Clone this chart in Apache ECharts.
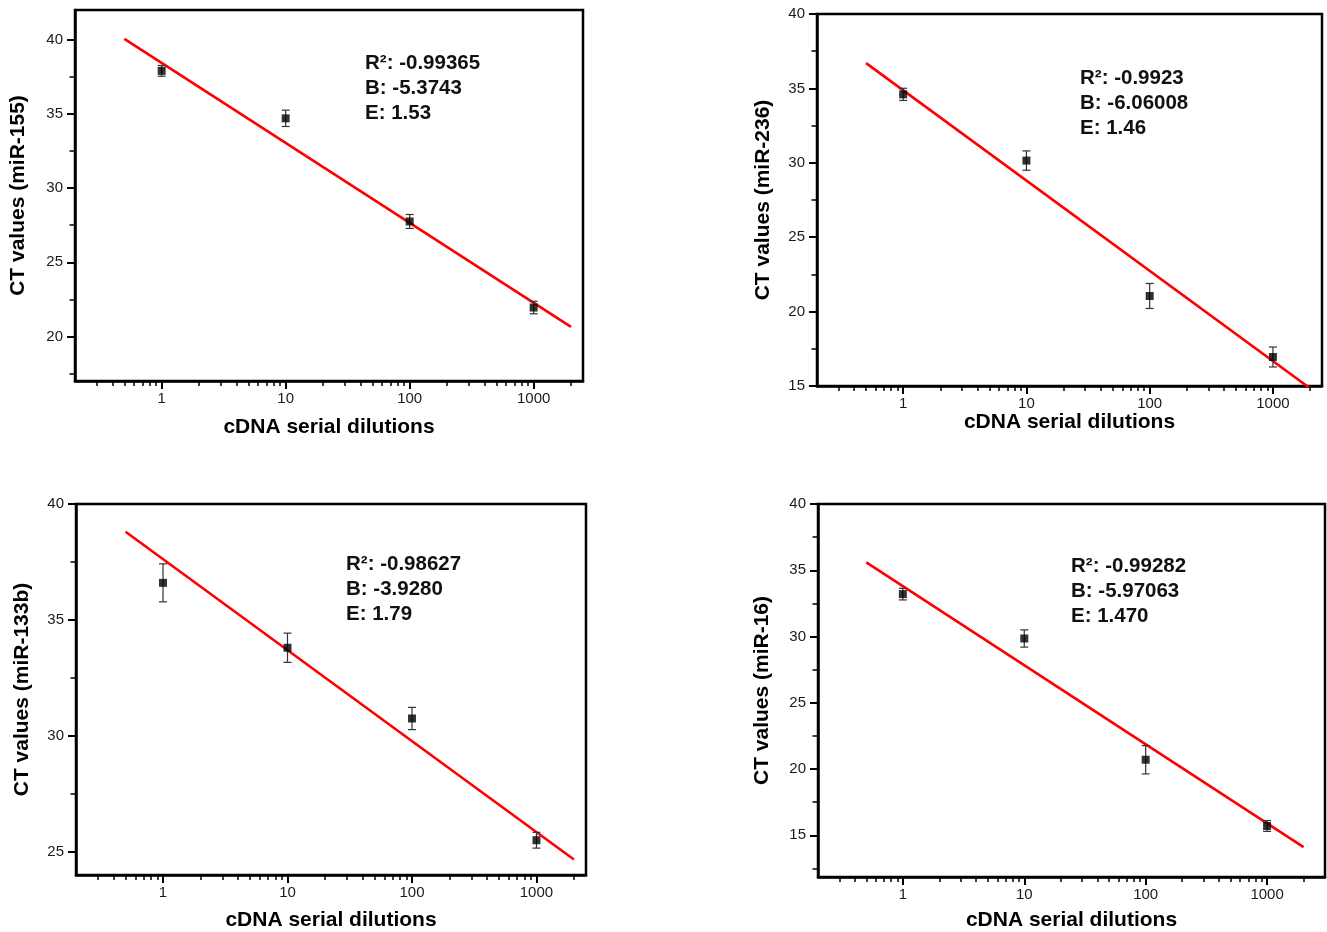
<!DOCTYPE html>
<html>
<head>
<meta charset="utf-8">
<script src="https://cdn.jsdelivr.net/npm/echarts@6/dist/echarts.min.js"></script>
<style>
  html, body { margin: 0; padding: 0; background: #fff; }
  #main { width: 1327px; height: 932px; }
</style>
</head>
<body>
<div id="main"></div>
<script>
// dilution steps (x) and the two ends of each fitted line
var dilutions = [1, 10, 100, 1000];
var fitX = [0.5, 2000];
var xTickValues = [1, 10, 100, 1000];
var xTickLabels = ['1', '10', '100', '1000'];

// miR-155
var ct155 = [37.9, 34.7, 27.75, 21.95];
var err155 = [0.36, 0.55, 0.47, 0.42];
var fit155 = [40.05, 20.65];
var stats155 = ['R\u00b2: -0.99365', 'B: -5.3743', 'E: 1.53'];
var yRange155 = [17, 42];
var yTicks155 = [20, 25, 30, 35, 40];
var yMinor155 = [17.5, 22.5, 27.5, 32.5, 37.5];

// miR-236
var ct236 = [34.6, 30.15, 21.05, 16.95];
var err236 = [0.41, 0.65, 0.84, 0.67];
var fit236 = [36.7, 14.85];
var stats236 = ['R\u00b2: -0.9923', 'B: -6.06008', 'E: 1.46'];
var yRange236 = [15, 40];
var yTicks236 = [15, 20, 25, 30, 35, 40];
var yMinor236 = [17.5, 22.5, 27.5, 32.5, 37.5];

// miR-133b
var ct133b = [36.6, 33.8, 30.75, 25.5];
var err133b = [0.82, 0.63, 0.48, 0.34];
var fit133b = [38.8, 24.67];
var stats133b = ['R\u00b2: -0.98627', 'B: -3.9280', 'E: 1.79'];
var yRange133b = [24, 40];
var yTicks133b = [25, 30, 35, 40];
var yMinor133b = [27.5, 32.5, 37.5];

// miR-16
var ct16 = [33.2, 29.85, 20.7, 15.7];
var err16 = [0.44, 0.65, 1.07, 0.41];
var fit16 = [35.6, 14.1];
var stats16 = ['R\u00b2: -0.99282', 'B: -5.97063', 'E: 1.470'];
var yRange16 = [11.85, 40];
var yTicks16 = [15, 20, 25, 30, 35, 40];
var yMinor16 = [12.5, 17.5, 22.5, 27.5, 32.5, 37.5];

var xRanges = [[0.2, 2500], [0.2, 2500], [0.2, 2500], [0.2, 3000]];

var chartDom = document.getElementById('main');
var myChart = echarts.init(chartDom);
var font = 'Arial, "Liberation Sans", Helvetica, sans-serif';

var panels = [
    { name: 'CT values (miR-155)', ct: ct155, err: err155, fit: fit155, stats: stats155, yRange: yRange155, yTicks: yTicks155, yMinor: yMinor155,
      grid: { left: 75, top: 10, width: 508, height: 371 }, xGap: 35.5, yGap: 46, text: [365, 63] },
    { name: 'CT values (miR-236)', ct: ct236, err: err236, fit: fit236, stats: stats236, yRange: yRange236, yTicks: yTicks236, yMinor: yMinor236,
      grid: { left: 817, top: 14, width: 505, height: 372 }, xGap: 25.5, yGap: 43.5, text: [1080, 78] },
    { name: 'CT values (miR-133b)', ct: ct133b, err: err133b, fit: fit133b, stats: stats133b, yRange: yRange133b, yTicks: yTicks133b, yMinor: yMinor133b,
      grid: { left: 76, top: 504, width: 510, height: 371 }, xGap: 34.5, yGap: 43.5, text: [346, 564] },
    { name: 'CT values (miR-16)', ct: ct16, err: err16, fit: fit16, stats: stats16, yRange: yRange16, yTicks: yTicks16, yMinor: yMinor16,
      grid: { left: 818, top: 504, width: 507, height: 373 }, xGap: 32.5, yGap: 45.5, text: [1071, 566] }
];

// log10 positions of the 2..9 minor ticks inside an x range
function minorLogTicks(range) {
    var out = [];
    for (var d = -1; d <= 3; d++) {
        for (var m = 2; m <= 9; m++) {
            var v = m * Math.pow(10, d);
            if (v > range[0] + 1e-9 && v < range[1] - 1e-9) out.push(Math.log10(v));
        }
    }
    return out;
}

var grids = [], xAxes = [], yAxes = [], series = [], graphics = [];

panels.forEach(function (p, i) {
    grids.push(Object.assign({ show: true, borderColor: '#000', borderWidth: 2.5, backgroundColor: 'transparent' }, p.grid));
    var xr = xRanges[i];
    var xMin = Math.log10(xr[0]), xMax = Math.log10(xr[1]);
    var majorX = xTickValues.map(function (v) { return Math.log10(v); });

    xAxes.push({
        type: 'value', gridIndex: i, position: 'bottom', min: xMin, max: xMax,
        name: 'cDNA serial dilutions', nameLocation: 'middle', nameGap: p.xGap,
        nameTextStyle: { fontFamily: font, fontWeight: 'bold', fontSize: 21, color: '#000' },
        axisLine: { show: true, onZero: false, lineStyle: { color: '#000', width: 2.5 } },
        axisTick: { show: true, inside: false, length: 8, lineStyle: { color: '#000', width: 2 }, customValues: majorX },
        axisLabel: {
            show: true, margin: 10, fontFamily: font, fontSize: 15, color: '#1a1a1a', customValues: majorX,
            formatter: function (v) {
                var k = majorX.findIndex(function (m) { return Math.abs(m - v) < 1e-6; });
                return k >= 0 ? xTickLabels[k] : '';
            }
        },
        splitLine: { show: false }
    });
    xAxes.push({
        type: 'value', gridIndex: i, position: 'bottom', min: xMin, max: xMax,
        axisLine: { show: false, onZero: false },
        axisTick: { show: true, inside: false, length: 5, lineStyle: { color: '#000', width: 1.5 }, customValues: minorLogTicks(xr) },
        axisLabel: { show: false },
        splitLine: { show: false }
    });

    yAxes.push({
        type: 'value', gridIndex: i, position: 'left', min: p.yRange[0], max: p.yRange[1],
        name: p.name, nameLocation: 'middle', nameGap: p.yGap, nameRotate: 90,
        nameTextStyle: { fontFamily: font, fontWeight: 'bold', fontSize: 21, color: '#000' },
        axisLine: { show: true, onZero: false, lineStyle: { color: '#000', width: 2.5 } },
        axisTick: { show: true, inside: false, length: 8, lineStyle: { color: '#000', width: 2 }, customValues: p.yTicks },
        axisLabel: { show: true, margin: 12, fontFamily: font, fontSize: 15, color: '#1a1a1a', customValues: p.yTicks },
        splitLine: { show: false }
    });
    yAxes.push({
        type: 'value', gridIndex: i, position: 'left', min: p.yRange[0], max: p.yRange[1],
        axisLine: { show: false, onZero: false },
        axisTick: { show: true, inside: false, length: 5.5, lineStyle: { color: '#000', width: 1.5 }, customValues: p.yMinor },
        axisLabel: { show: false },
        splitLine: { show: false }
    });

    // fitted line, read as its two ends
    series.push({
        type: 'line', xAxisIndex: 2 * i, yAxisIndex: 2 * i, clip: true,
        data: fitX.map(function (x, k) { return [Math.log10(x), p.fit[k]]; }),
        showSymbol: false, symbol: 'none',
        lineStyle: { color: '#ff0000', width: 2.6 }, z: 2, silent: true
    });

    // error bars
    series.push({
        type: 'custom', xAxisIndex: 2 * i, yAxisIndex: 2 * i, z: 3,
        data: dilutions.map(function (x, k) { return [Math.log10(x), p.ct[k] - p.err[k], p.ct[k] + p.err[k]]; }),
        renderItem: function (params, api) {
            var lo = api.coord([api.value(0), api.value(1)]);
            var hi = api.coord([api.value(0), api.value(2)]);
            var w = 4;
            var st = { stroke: '#333', lineWidth: 1.2 };
            return {
                type: 'group',
                children: [
                    { type: 'line', shape: { x1: lo[0], y1: lo[1], x2: hi[0], y2: hi[1] }, style: st },
                    { type: 'line', shape: { x1: lo[0] - w, y1: lo[1], x2: lo[0] + w, y2: lo[1] }, style: st },
                    { type: 'line', shape: { x1: hi[0] - w, y1: hi[1], x2: hi[0] + w, y2: hi[1] }, style: st }
                ]
            };
        }
    });

    // mean points
    series.push({
        type: 'scatter', xAxisIndex: 2 * i, yAxisIndex: 2 * i, z: 4,
        symbol: 'rect', symbolSize: 8,
        itemStyle: { color: '#000' },
        data: dilutions.map(function (x, k) { return [Math.log10(x), p.ct[k]]; })
    });

    p.stats.forEach(function (s, k) {
        graphics.push({
            type: 'text', x: p.text[0], y: p.text[1] + k * 25, z: 10,
            style: { text: s, font: 'bold 20.5px ' + font, fill: '#111', verticalAlign: 'middle', textVerticalAlign: 'middle' }
        });
    });
});

var option = {
    animation: false,
    backgroundColor: '#fff',
    grid: grids,
    xAxis: xAxes,
    yAxis: yAxes,
    series: series,
    graphic: graphics
};

option && myChart.setOption(option);
</script>
</body>
</html>
